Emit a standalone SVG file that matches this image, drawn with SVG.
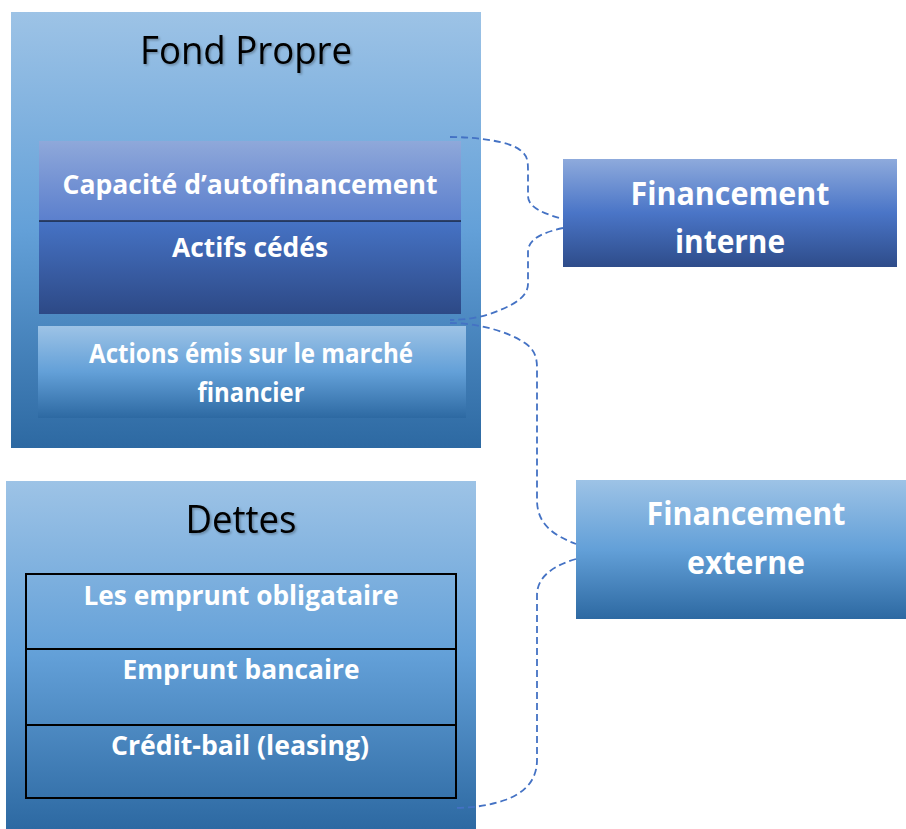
<svg xmlns="http://www.w3.org/2000/svg" width="906" height="829" viewBox="0 0 906 829">
<defs>
<linearGradient id="gLight" x1="0" y1="0" x2="0" y2="1">
<stop offset="0" stop-color="#9dc3e6"/>
<stop offset="0.5" stop-color="#63a0d8"/>
<stop offset="1" stop-color="#2d69a2"/>
</linearGradient>
<linearGradient id="gCap" x1="0" y1="0" x2="0" y2="1">
<stop offset="0" stop-color="#8fa8da"/>
<stop offset="1" stop-color="#5b7fcd"/>
</linearGradient>
<linearGradient id="gAct" x1="0" y1="0" x2="0" y2="1">
<stop offset="0" stop-color="#4673c5"/>
<stop offset="1" stop-color="#2d4986"/>
</linearGradient>
<linearGradient id="gDark" x1="0" y1="0" x2="0" y2="1">
<stop offset="0" stop-color="#8eaadc"/>
<stop offset="0.5" stop-color="#4a75c7"/>
<stop offset="1" stop-color="#2e4c8a"/>
</linearGradient>
<filter id="sh" x="-10%" y="-10%" width="120%" height="130%">
<feDropShadow dx="1.5" dy="1.5" stdDeviation="1.2" flood-color="#000" flood-opacity="0.3"/>
</filter>
</defs>
<style>
.title{font-family:"Open Sans","Liberation Sans",sans-serif;font-size:38px;fill:#000;text-anchor:middle}
.lbl{font-family:"Open Sans","Liberation Sans",sans-serif;font-size:26px;font-weight:bold;fill:#fff;text-anchor:middle}
.big{font-family:"Open Sans","Liberation Sans",sans-serif;font-size:32px;font-weight:bold;fill:#fff;text-anchor:middle}
.conn{fill:none;stroke:#4472c4;stroke-width:1.8;stroke-dasharray:7 4}
.cell{fill:none;stroke:#000;stroke-width:2}
</style>

<g id="fond-propre">
<rect x="11" y="12" width="470" height="436" fill="url(#gLight)"/>
<text class="title" x="246" y="64" textLength="212" lengthAdjust="spacingAndGlyphs" filter="url(#sh)">Fond Propre</text>
</g>

<g id="capacite">
<rect x="39" y="141" width="422" height="80" fill="url(#gCap)"/>
<text class="lbl" x="250" y="194" textLength="375" lengthAdjust="spacingAndGlyphs">Capacité d’autofinancement</text>
</g>

<g id="actifs-cedes">
<rect x="39" y="221" width="422" height="93" fill="url(#gAct)"/>
<line x1="39" y1="221" x2="461" y2="221" stroke="#000" stroke-width="1.2"/>
<text class="lbl" x="250" y="257" textLength="156" lengthAdjust="spacingAndGlyphs">Actifs cédés</text>
</g>

<g id="actions">
<rect x="38" y="326" width="428" height="92" fill="url(#gLight)"/>
<text class="lbl" x="251" y="363" textLength="324" lengthAdjust="spacingAndGlyphs">Actions émis sur le marché</text>
<text class="lbl" x="251" y="402" textLength="107" lengthAdjust="spacingAndGlyphs">financier</text>
</g>

<g id="dettes">
<rect x="6" y="481" width="470" height="348" fill="url(#gLight)"/>
<text class="title" x="241" y="533" textLength="111" lengthAdjust="spacingAndGlyphs" filter="url(#sh)">Dettes</text>
</g>

<g id="emprunt-obligataire">
<rect class="cell" x="26" y="574" width="430" height="75"/>
<text class="lbl" x="241" y="605" textLength="315" lengthAdjust="spacingAndGlyphs">Les emprunt obligataire</text>
</g>

<g id="emprunt-bancaire">
<rect class="cell" x="26" y="649" width="430" height="76"/>
<text class="lbl" x="241" y="679" textLength="237" lengthAdjust="spacingAndGlyphs">Emprunt bancaire</text>
</g>

<g id="credit-bail">
<rect class="cell" x="26" y="725" width="430" height="73"/>
<text class="lbl" x="240" y="755" textLength="258" lengthAdjust="spacingAndGlyphs">Crédit-bail (leasing)</text>
</g>

<g id="financement-interne">
<rect x="563" y="159" width="334" height="108" fill="url(#gDark)"/>
<text class="big" x="730" y="205" textLength="199" lengthAdjust="spacingAndGlyphs">Financement</text>
<text class="big" x="730" y="253" textLength="110" lengthAdjust="spacingAndGlyphs">interne</text>
</g>

<g id="financement-externe">
<rect x="576" y="480" width="330" height="139" fill="url(#gLight)"/>
<text class="big" x="746" y="525" textLength="199" lengthAdjust="spacingAndGlyphs">Financement</text>
<text class="big" x="746" y="574" textLength="118" lengthAdjust="spacingAndGlyphs">externe</text>
</g>

<g id="connectors">
<path class="conn" d="M450,137 C480,137 510,142 520,150 C527,155 528,160 528,170 L528,196 C528,208 545,214 563,219"/>
<path class="conn" d="M563,228 C545,232 528,238 528,252 L528,284 C528,296 515,304 500,310 C485,317 465,320 450,320"/>
<path class="conn" d="M450,323 C475,323 505,330 525,343 C535,350 537,358 537,368 L537,500 C537,525 555,536 576,544"/>
<path class="conn" d="M576,559 C555,565 537,576 537,595 L537,760 C537,780 525,793 505,800 C488,806 470,808 453,808"/>
</g>
</svg>
